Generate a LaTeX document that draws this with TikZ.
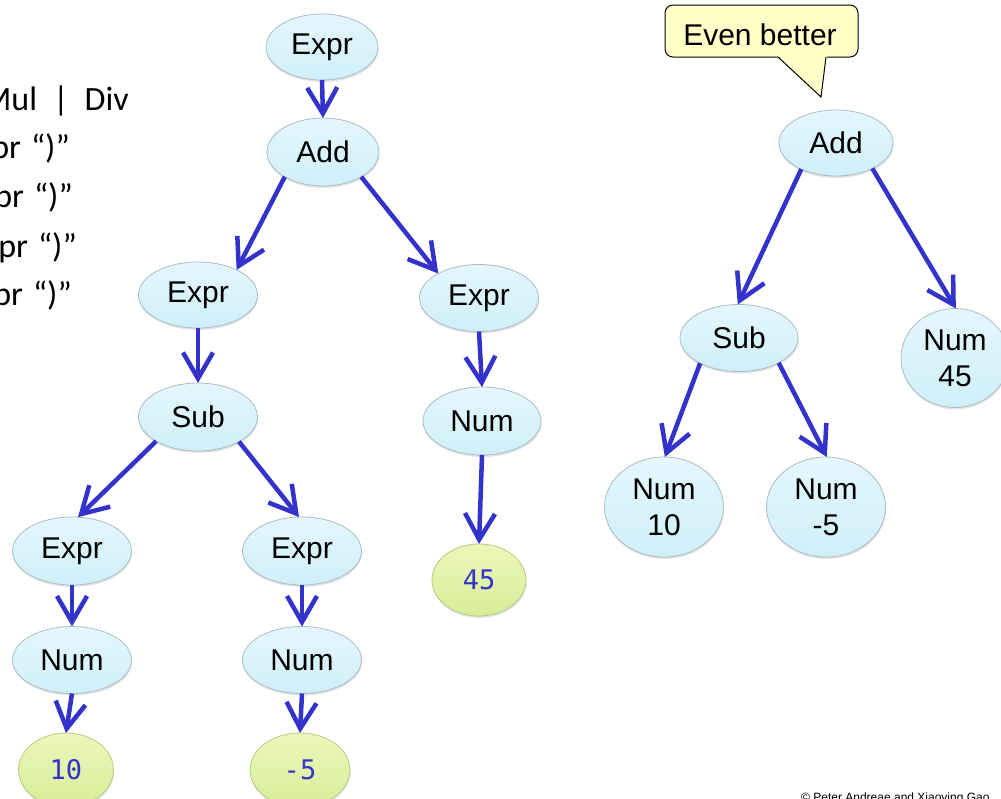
\documentclass[tikz,border=0pt]{standalone}
\usepackage{fontspec}
\setmainfont{Liberation Sans}
\newfontfamily\gramfont{Carlito}
\newfontfamily\codefont{DejaVu Sans Mono}
\usetikzlibrary{shapes.geometric,arrows.meta,shadows}
\definecolor{arrowblue}{RGB}{51,51,204}
\definecolor{nodetop}{RGB}{228,247,253}
\definecolor{nodebot}{RGB}{208,239,249}
\definecolor{nodeborder}{RGB}{170,188,198}
\definecolor{leaftop}{RGB}{236,247,186}
\definecolor{leafbot}{RGB}{216,237,152}
\definecolor{leafborder}{RGB}{186,202,130}
\definecolor{calloutfill}{RGB}{255,255,200}
\tikzset{
  treenode/.style={ellipse, inner sep=0pt, outer sep=0pt, draw=nodeborder, line width=0.8pt,
    top color=nodetop, bottom color=nodebot, text=black, align=center,
    font=\fontsize{30}{36}\selectfont,
    drop shadow={shadow xshift=0.5pt, shadow yshift=-2pt, opacity=0.22}},
  leafnode/.style={ellipse, inner sep=0pt, outer sep=0pt, draw=leafborder, line width=0.8pt,
    top color=leaftop, bottom color=leafbot, text=arrowblue,
    font=\codefont\fontsize{27}{32}\selectfont,
    drop shadow={shadow xshift=0.5pt, shadow yshift=-2pt, opacity=0.22}},
  arr/.style={draw=arrowblue, line width=4.5pt, -{Straight Barb[length=26pt,width=30pt]}},
  gramtext/.style={anchor=base east, inner sep=0pt, font=\gramfont\fontsize{34}{40}\selectfont},
}
\begin{document}
\begin{tikzpicture}[x=1pt,y=-1pt]
\useasboundingbox (0,0) rectangle (1001,798);
\clip (0,0) rectangle (1001,798);
\fill[white] (0,0) rectangle (1001,798);

% grammar text (clipped at the left edge, as in the reference)
\node[gramtext] (g1) at (129,110) {Mul\hspace{16pt}|\hspace{16pt}Div};
\node[gramtext] (g2) at (70,158) {Expr\hspace{10pt}“)”};
\node[gramtext] (g3) at (73,207) {Expr\hspace{10pt}“)”};
\node[gramtext] (g4) at (77,257) {Expr\hspace{10pt}“)”};
\node[gramtext] (g5) at (72,305) {Expr\hspace{10pt}“)”};

% left tree
\node[treenode, minimum width=112pt, minimum height=66pt] (exprT) at (322,47) {Expr};
\node[treenode, minimum width=112pt, minimum height=68pt] (addL) at (323,152) {Add};
\node[treenode, minimum width=119pt, minimum height=66pt] (exprL) at (198,295) {Expr};
\node[treenode, minimum width=119pt, minimum height=67pt] (exprR) at (479,298) {Expr};
\node[treenode, minimum width=119pt, minimum height=68pt] (subL) at (198,417) {Sub};
\node[treenode, minimum width=118pt, minimum height=68pt] (numR) at (482,421) {Num};
\node[leafnode, minimum width=94pt, minimum height=72pt] (g45) at (479,580) {45};
\node[treenode, minimum width=119pt, minimum height=68pt] (exprBL) at (72,551) {Expr};
\node[treenode, minimum width=119pt, minimum height=68pt] (exprBM) at (302,551) {Expr};
\node[treenode, minimum width=119pt, minimum height=67pt] (numBL) at (72,660) {Num};
\node[treenode, minimum width=119pt, minimum height=67pt] (numBM) at (302,660) {Num};
\node[leafnode, minimum width=95pt, minimum height=74pt] (g10) at (66,770) {10};
\node[leafnode, minimum width=100pt, minimum height=74pt] (gm5) at (300,770) {-5};

\draw[arr] (exprT.south) -- (addL.north);
\draw[arr] (addL.213) -- (exprL.33);
\draw[arr] (addL.327) -- (exprR.149);
\draw[arr] (exprL.south) -- (subL.north);
\draw[arr] (subL.210) -- (exprBL.80);
\draw[arr] (subL.329) -- (exprBM.95);
\draw[arr] (exprR.south) -- (numR.north);
\draw[arr] (numR.south) -- (g45.north);
\draw[arr] (exprBL.south) -- (numBL.north);
\draw[arr] (exprBM.south) -- (numBM.north);
\draw[arr] (numBL.south) -- (g10.north);
\draw[arr] (numBM.south) -- (gm5.north);

% callout
\draw[line width=1pt, fill=calloutfill, rounded corners=8pt] (665,5) rectangle (858,57);
\fill[calloutfill] (777,55) -- (821,97) -- (827,55) -- cycle;
\draw[line width=1pt, line join=miter] (778,57) -- (821,97) -- (826,57);
\node[font=\fontsize{30}{36}\selectfont, inner sep=0pt, anchor=base] (eb) at (760,45) {Even better};

% right tree
\node[treenode, minimum width=114pt, minimum height=66pt] (addR) at (836,143) {Add};
\node[treenode, minimum width=118pt, minimum height=67pt] (subR) at (739,338) {Sub};
\node[treenode, minimum width=108pt, minimum height=99pt] (num45) at (955,358) {Num\\45};
\node[treenode, minimum width=119pt, minimum height=100pt] (num10) at (664,507) {Num\\10};
\node[treenode, minimum width=119pt, minimum height=100pt] (num5) at (826,507) {Num\\-5};

\draw[arr] (addR.217) -- (subR.92);
\draw[arr] (addR.325) -- (num45.89);
\draw[arr] (subR.213) -- (num10.89);
\draw[arr] (subR.328) -- (num5.89);

% copyright (clipped at the bottom edge, as in the reference)
\node[anchor=base west, inner sep=0pt, font=\fontsize{12}{14}\selectfont] (copy) at (801,801) {© Peter Andreae and Xiaoying Gao};
\end{tikzpicture}
\end{document}
